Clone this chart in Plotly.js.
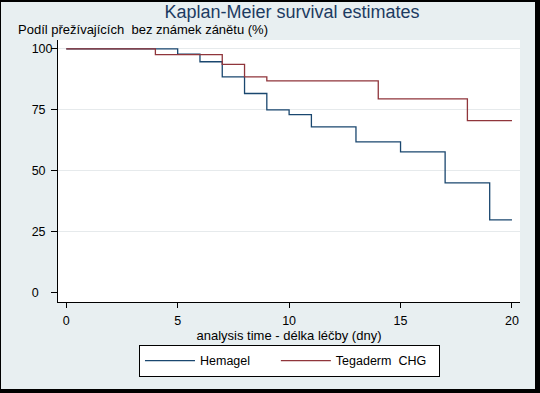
<!DOCTYPE html>
<html>
<head>
<meta charset="utf-8">
<script src="https://cdn.plot.ly/plotly-3.0.1.min.js"></script>
<style>
  html, body { margin:0; padding:0; width:540px; height:393px; background:#000; overflow:hidden; }
  #chart { position:absolute; left:1px; top:2px; width:534px; height:387px; }
</style>
</head>
<body>
<div id="chart"></div>
<script>
// Data (Kaplan-Meier step functions)
const hemagelTime = [0, 5, 6, 7, 8, 9, 10, 11, 13, 15, 17, 19, 20];
const hemagelSurv = [100, 97.8, 94.7, 88.5, 81.7, 75.0, 73.0, 68.0, 61.9, 57.8, 45.1, 29.9, 29.9];
const tegadermTime = [0, 4, 7, 8, 9, 14, 18, 20];
const tegadermSurv = [100, 97.6, 93.6, 88.5, 86.9, 79.5, 70.6, 70.6];

const seriesNames = ["Hemagel\u00a0\u00a0\u00a0\u00a0\u00a0\u00a0", "Tegaderm\u00a0\u00a0CHG\u00a0\u00a0"];
const yTickVals = [0, 25, 50, 75, 100];
const yTickText = ["0\u00a0\u00a0\u00a0\u00a0", "25\u00a0\u00a0", "50\u00a0\u00a0", "75\u00a0\u00a0", "100"];
const xTickVals = [0, 5, 10, 15, 20];
const gridVals = [25, 50, 75, 100];

const titleText = "Kaplan-Meier survival estimates";
const yTitleText = "Podíl přežívajících\u00a0\u00a0bez známek zánětu (%)";
const xTitleText = "analysis time - délka léčby (dny)";

const FONT = "Liberation Sans, Arial, sans-serif";

const traces = [
  { x: hemagelTime, y: hemagelSurv, name: seriesNames[0], type: "scatter", mode: "lines",
    line: { shape: "hv", color: "#1a476f", width: 1.3 } },
  { x: tegadermTime, y: tegadermSurv, name: seriesNames[1], type: "scatter", mode: "lines",
    line: { shape: "hv", color: "#90353b", width: 1.3 } }
];

const xRange = [-0.37, 20.36];
const yRange = [-3.69, 103.6];

const layout = {
  width: 534, height: 387,
  paper_bgcolor: "#e8eff1",
  plot_bgcolor: "#ffffff",
  margin: { l: 57, r: 15, t: 38, b: 87 },
  font: { family: FONT, size: 12, color: "#000" },
  title: { text: titleText, font: { family: FONT, size: 18, color: "#1c3b62" },
           x: 0.545, xanchor: "center", y: 0.9745, yanchor: "middle", xref: "container", yref: "container" },
  xaxis: {
    range: xRange, tickvals: xTickVals, ticks: "outside", ticklen: 5, tickcolor: "#000",
    showline: true, linecolor: "#000", linewidth: 1, showgrid: false, zeroline: false,
    tickfont: { size: 12.5, color: "#000" }, ticklabelstandoff: 2,
    title: { text: xTitleText, font: { size: 13, color: "#000" }, standoff: 1 }
  },
  yaxis: {
    range: yRange, tickvals: yTickVals, ticktext: yTickText, ticks: "outside", ticklen: 6, tickcolor: "#000",
    showline: true, linecolor: "#000", linewidth: 1, showgrid: false, zeroline: false,
    tickfont: { size: 12.5, color: "#000" }, ticklabelstandoff: -4
  },
  yaxis2: {
    range: yRange, overlaying: "y", tickvals: gridVals, showticklabels: false, ticks: "",
    showline: false, showgrid: true, gridcolor: "#e6eaec", gridwidth: 1, zeroline: false
  },
  showlegend: true,
  legend: {
    orientation: "h", xref: "container", yref: "container",
    x: 0.2584, xanchor: "left", y: 0.1137, yanchor: "top",
    bgcolor: "#ffffff", bordercolor: "#000", borderwidth: 1,
    font: { size: 12.5, color: "#000" }, itemwidth: 50
  },
  annotations: [
    { text: yTitleText, xref: "paper", yref: "paper", x: -0.0909, y: 1.040,
      xanchor: "left", yanchor: "middle", showarrow: false, font: { size: 13, color: "#000" } }
  ]
};

// dummy trace to activate yaxis2 gridlines
traces.push({ x: [null], y: [null], yaxis: "y2", showlegend: false, hoverinfo: "skip", type: "scatter", mode: "lines" });

Plotly.newPlot("chart", traces, layout, { displayModeBar: false, staticPlot: true });
</script>
</body>
</html>
